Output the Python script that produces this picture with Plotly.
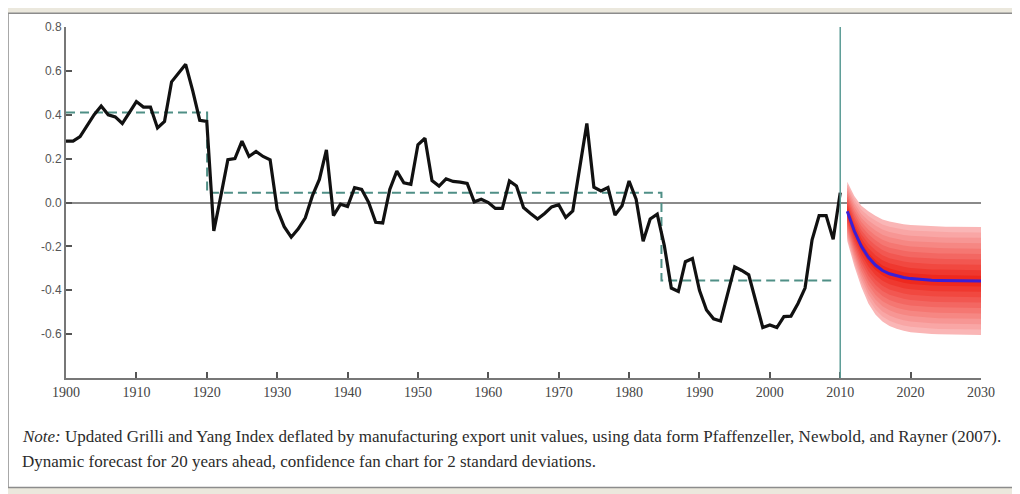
import plotly.graph_objects as go

# ---------------- data ----------------
years = list(range(1900, 2011))
index_values = [
    0.28, 0.28, 0.30, 0.35, 0.40, 0.44, 0.40, 0.39, 0.36, 0.41,   # 1900-1909
    0.46, 0.435, 0.435, 0.34, 0.37, 0.55, 0.59, 0.63, 0.51, 0.375, # 1910-1919
    0.37, -0.13, 0.03, 0.195, 0.20, 0.28, 0.21, 0.233, 0.21, 0.195, # 1920-1929
    -0.03, -0.11, -0.158, -0.12, -0.07, 0.03, 0.105, 0.24, -0.06, -0.008, # 1930-1939
    -0.018, 0.068, 0.06, 0.0, -0.09, -0.093, 0.06, 0.143, 0.09, 0.083,   # 1940-1949
    0.263, 0.293, 0.10, 0.075, 0.108, 0.096, 0.093, 0.087, 0.003, 0.015, # 1950-1959
    0.0, -0.027, -0.027, 0.098, 0.075, -0.023, -0.05, -0.075, -0.05, -0.02, # 1960-1969
    -0.01, -0.068, -0.038, 0.16, 0.36, 0.07, 0.053, 0.068, -0.057, -0.015, # 1970-1979
    0.098, 0.015, -0.177, -0.075, -0.053, -0.195, -0.39, -0.405, -0.27, -0.255, # 1980-1989
    -0.40, -0.49, -0.53, -0.54, -0.42, -0.293, -0.31, -0.33, -0.45, -0.57, # 1990-1999
    -0.558, -0.57, -0.52, -0.518, -0.46, -0.39, -0.17, -0.06, -0.06, -0.168, # 2000-2009
    0.045,                                                               # 2010
]

# regime means (structural breaks), step boundaries
regime_x = [1900, 1920.05, 1984.6, 2009]
regime_y = [0.41, 0.045, -0.355, -0.355]

forecast_origin = 2010
forecast_years = list(range(2011, 2031))
forecast_mean = [-0.04, -0.13, -0.20, -0.25, -0.285, -0.31, -0.325, -0.335, -0.342, -0.347,
                 -0.35, -0.352, -0.354, -0.355, -0.356, -0.357, -0.357, -0.358, -0.358, -0.358]
# half width of the 2-standard-deviation fan
fan_halfwidth = [0.135, 0.16, 0.185, 0.21, 0.225, 0.233, 0.238, 0.241, 0.243, 0.244,
                 0.245, 0.245, 0.245, 0.246, 0.246, 0.246, 0.246, 0.246, 0.246, 0.246]

x_ticks = list(range(1900, 2031, 10))
y_ticks = [-0.6, -0.4, -0.2, 0.0, 0.2, 0.4, 0.6, 0.8]
y_ticktext = ["-0.6", "-0.4", "-0.2", "0.0", "0.2", "0.4", "0.6", "0.8"]

note_line1 = ("<i>Note:</i> Updated Grilli and Yang Index deflated by manufacturing export unit values, "
              "using data form Pfaffenzeller, Newbold, and Rayner (2007).")
note_line2 = "Dynamic forecast for 20 years ahead, confidence fan chart for 2 standard deviations."

# ---------------- figure ----------------
# page body has an 8px margin, so the figure occupies page (8..1020, 8..494)
OFF = 8
W, H = 1020 - OFF, 494 - OFF
ML, MR, MT, MB = 58, 39, 14, 116
PW, PH = W - ML - MR, H - MT - MB


def px_x(p):  # page pixel -> paper x
    return (p - OFF - ML) / PW


def px_y(p):  # page pixel -> paper y
    return (H - MB - (p - OFF)) / PH


fig = go.Figure()

# fan chart: nested bands, light outside to saturated red inside
n_bands = 10
c_out = (250, 182, 182)
c_in = (238, 40, 30)
for i in range(n_bands):
    frac = (n_bands - i) / n_bands
    t = i / (n_bands - 1)
    col = tuple(round(c_out[k] + (c_in[k] - c_out[k]) * t) for k in range(3))
    upper = [m + frac * h for m, h in zip(forecast_mean, fan_halfwidth)]
    lower = [m - frac * h for m, h in zip(forecast_mean, fan_halfwidth)]
    fig.add_trace(go.Scatter(
        x=forecast_years + forecast_years[::-1],
        y=upper + lower[::-1],
        fill="toself", mode="lines", line=dict(width=0),
        fillcolor="rgb(%d,%d,%d)" % col, hoverinfo="skip", showlegend=False))

# regime means
fig.add_trace(go.Scatter(x=regime_x, y=regime_y, mode="lines", line_shape="hv",
                         line=dict(color="#4f8f86", width=2, dash="9px,5px"),
                         showlegend=False))

# index series
fig.add_trace(go.Scatter(x=years, y=index_values, mode="lines",
                         line=dict(color="#111111", width=3.2), showlegend=False))

# forecast mean
fig.add_trace(go.Scatter(x=forecast_years, y=forecast_mean, mode="lines",
                         line=dict(color="#3a1fd6", width=3), showlegend=False))

shapes = [
    # white panel with border
    dict(type="rect", xref="paper", yref="paper",
         x0=px_x(8), x1=px_x(1013), y0=px_y(489), y1=px_y(8),
         fillcolor="white", line=dict(color="#8c8c8c", width=1.5), layer="below"),
    # forecast origin
    dict(type="line", xref="x", yref="y", x0=forecast_origin, x1=forecast_origin,
         y0=-0.8, y1=0.8, line=dict(color="#5c9c96", width=1.5)),
]

note_font = dict(family="Liberation Serif", size=17, color="#2b2b2b")
annotations = [
    dict(text=note_line1, xref="paper", yref="paper", x=px_x(20), y=px_y(437),
         xanchor="left", yanchor="middle", showarrow=False, font=note_font),
    dict(text=note_line2, xref="paper", yref="paper", x=px_x(20), y=px_y(463),
         xanchor="left", yanchor="middle", showarrow=False, font=note_font),
]

fig.update_layout(
    width=W, height=H,
    margin=dict(l=ML, r=MR, t=MT, b=MB),
    paper_bgcolor="#ebe8dd",
    plot_bgcolor="white",
    shapes=shapes,
    annotations=annotations,
    showlegend=False,
    xaxis=dict(range=[1900, 2030], tickvals=x_ticks, ticks="inside", ticklen=6,
               tickwidth=1.5, tickcolor="#555", showline=True, linecolor="#777",
               linewidth=2, showgrid=False, zeroline=False,
               tickfont=dict(family="Liberation Serif", size=14, color="#444")),
    yaxis=dict(range=[-0.8, 0.8], tickvals=y_ticks, ticktext=y_ticktext,
               ticks="inside", ticklen=6, tickwidth=1.5, tickcolor="#555",
               showline=True, linecolor="#777", linewidth=2, showgrid=False,
               zeroline=True, zerolinecolor="#8a8a8a", zerolinewidth=1.5,
               tickfont=dict(family="Liberation Sans", size=12, color="#555")),
)

fig.write_html("out.html")
